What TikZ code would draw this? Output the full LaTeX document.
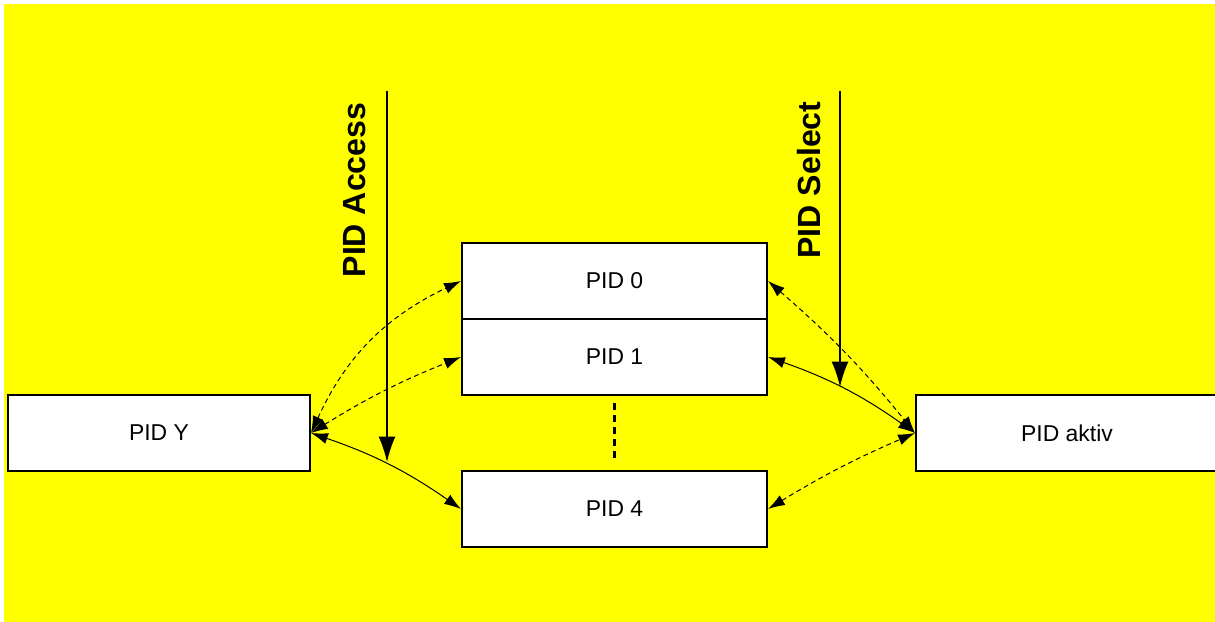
\documentclass[tikz,border=0pt]{standalone}
\usepackage{fontspec}
\setmainfont{Liberation Sans}
\usetikzlibrary{arrows.meta}
\definecolor{bgyellow}{RGB}{255,255,0}

\begin{document}
\begin{tikzpicture}[x=0.025cm, y=-0.025cm,
    pidbox/.style={draw, line width=1.4pt, fill=white, minimum width=7.55cm, minimum height=1.9cm,
      inner sep=0pt, font=\fontsize{16.3}{19}\selectfont},
    link/.style={line width=0.7pt, {Latex[length=12pt,width=8pt]}-{Latex[length=12pt,width=8pt]}},
    dlink/.style={link, dash pattern=on 3.5pt off 2.5pt},
    feed/.style={line width=1.1pt, -{Latex[length=18pt,width=12pt]}},
    feedlabel/.style={rotate=90, font=\fontsize{22.8}{26}\selectfont\bfseries}]
  \useasboundingbox (0,0) rectangle (1215,622);
  \fill[bgyellow] (4,4) rectangle (1215,622);

  \node[pidbox] (pidy) at (159,433) {PID Y};
  \node[pidbox, minimum width=7.625cm] (pid0) at (614.5,281) {PID 0};
  \node[pidbox, minimum width=7.625cm] (pid1) at (614.5,357) {PID 1};
  \node[pidbox, minimum width=7.625cm] (pid4) at (614.5,509) {PID 4};
  \node[pidbox] (aktiv) at (1067,433) {PID aktiv};

  \draw[line width=1.6pt, dash pattern=on 5pt off 3.5pt, shorten <=0.18cm, shorten >=0.2cm] (pid1) -- (pid4);

  \draw[dlink] (pidy.east) to[bend left=20] (pid0.west);
  \draw[dlink] (pidy.east) to[bend left=5] (pid1.west);
  \draw[link] (pidy.east) to[bend left=8] (pid4.west);

  \draw[dlink] (pid0.east) to[bend left=5] (aktiv.west);
  \draw[link] (pid1.east) to[bend left=8] (aktiv.west);
  \draw[dlink] (pid4.east) to[bend left=4] (aktiv.west);

  \coordinate (accTop) at (387,91);
  \coordinate (accEnd) at (387,462);
  \draw[feed] (accTop) -- (accEnd);
  \node[feedlabel] (acclabel) at (355,190) {PID Access};

  \coordinate (selTop) at (840,91);
  \coordinate (selEnd) at (840,387);
  \draw[feed] (selTop) -- (selEnd);
  \node[feedlabel] (sellabel) at (809,180) {PID Select};
\end{tikzpicture}
\end{document}
